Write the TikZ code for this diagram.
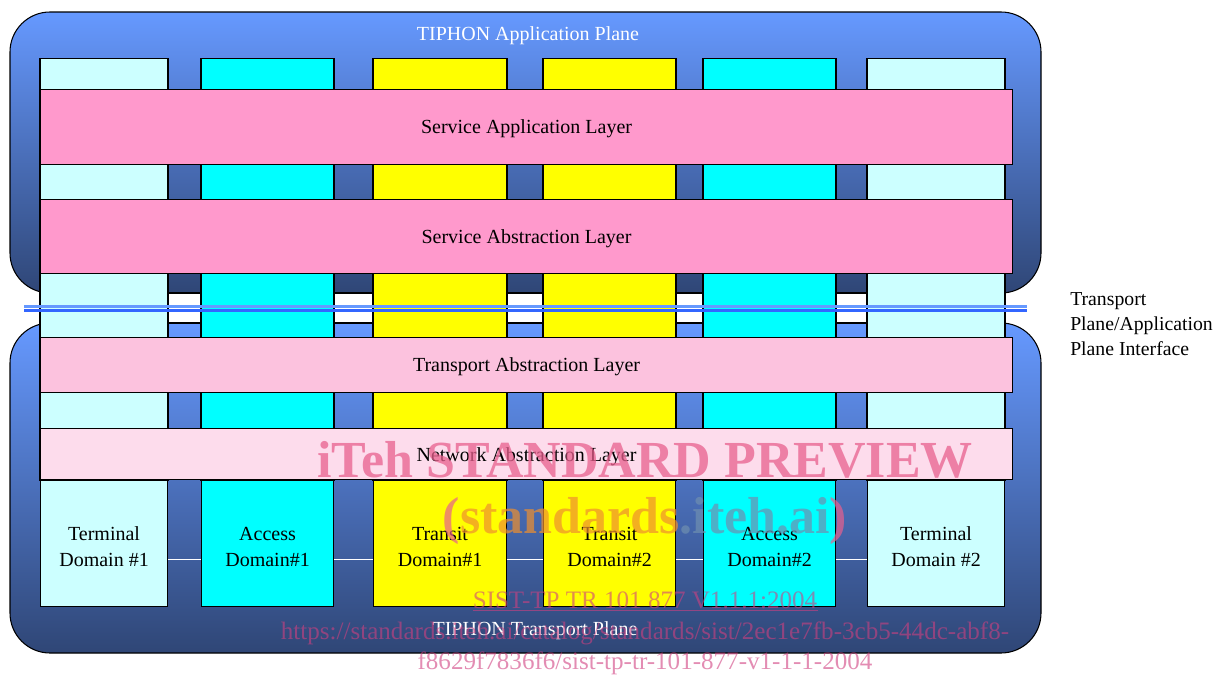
\documentclass[tikz,border=0pt]{standalone}
\usepackage{fontspec}
\setmainfont{Liberation Serif}
\usetikzlibrary{positioning}

\definecolor{planetop}{HTML}{6699FF}
\definecolor{planebot}{HTML}{2F4676}
\definecolor{termc}{HTML}{CCFFFF}
\definecolor{accc}{HTML}{00FFFF}
\definecolor{trc}{HTML}{FFFF00}
\definecolor{svcpink}{HTML}{FF99CC}
\definecolor{trpink}{HTML}{FCC2DE}
\definecolor{netpink}{HTML}{FDDCEC}
\definecolor{ifbluea}{HTML}{6699FF}
\definecolor{ifblueb}{HTML}{3366FF}
\definecolor{wmpink}{HTML}{E8608E}
\definecolor{wmmag}{HTML}{D04080}
\definecolor{wmorange}{HTML}{EE8F2E}
\definecolor{wmsteel}{HTML}{6F8FB0}

\tikzset{
  txt/.style={font=\fontsize{15}{19.5}\selectfont, align=center, inner sep=0pt},
  plane/.style={draw=black, line width=0.8pt, rounded corners=30pt,
    top color=planetop, bottom color=planebot},
  colbox/.style={draw=black, line width=0.8pt, minimum width=#1*0.75pt,
    inner sep=0pt, anchor=north west},
  dombox/.style={colbox=#1, minimum height=94.5pt},
  layer/.style={draw=black, line width=0.8pt, fill=svcpink, inner sep=0pt,
    minimum width=729pt, anchor=north west, txt, text depth=0pt},
  link/.style={draw=white, line width=0.9pt},
  wm/.style={inner sep=0pt, opacity=0.75, text opacity=0.75},
  wmsmall/.style={inner sep=0pt, text=wmmag, opacity=0.6, text opacity=0.6,
    font=\fontsize{18.8}{18.8}\selectfont}
}

\begin{document}
\begin{tikzpicture}[x=0.75pt,y=-0.75pt]
\useasboundingbox (0,0) rectangle (1218,675);

% the two planes
\path[plane] (10,12) rectangle (1041,293);
\path[plane] (10,323) rectangle (1041,653);
\node[txt, text=white] (appplane) at (528,36) {TIPHON Application Plane};
\node[txt, text=white] (trplane) at (535,631) {TIPHON Transport Plane};

% vertical domain columns (upper part) and the domain boxes at the bottom
\foreach \x/\w/\c/\n in {40/127/termc/1, 201/132/accc/2, 373/133/trc/3,
                         543/132/trc/4, 703/132/accc/5, 867/137/termc/6} {
  \node[colbox=\w, fill=\c, minimum height=316.5pt] (c\n) at (\x,58) {};
}
\node[dombox=127, fill=termc] (d1) at (40,480) {};
\node[dombox=132, fill=accc]  (d2) at (201,480) {};
\node[dombox=133, fill=trc]   (d3) at (373,480) {};
\node[dombox=132, fill=trc]   (d4) at (543,480) {};
\node[dombox=132, fill=accc]  (d5) at (703,480) {};
\node[dombox=137, fill=termc] (d6) at (867,480) {};

% domain names
\foreach \n/\t in {1/{Terminal\\Domain \#1}, 2/{Access\\Domain\#1},
                   3/{Transit\\Domain\#1}, 4/{Transit\\Domain\#2},
                   5/{Access\\Domain\#2}, 6/{Terminal\\Domain \#2}} {
  \node[txt] (t\n) at ([yshift=-2.5pt]d\n.center) {\t};
}

% links between neighbouring domains
\foreach \a/\b in {d1/d2, d2/d3, d3/d4, d4/d5, d5/d6} {
  \draw[link] ([yshift=-12pt]\a.east) -- ([yshift=-12pt]\b.west);
}

% white gap between the planes behind the interface lines
\foreach \a/\b in {c1/c2, c2/c3, c3/c4, c4/c5, c5/c6} {
  \fill[white] (\a.east |- 0,293) rectangle (\b.west |- 0,323);
  \draw[black, line width=0.8pt] (\a.east |- 0,293) -- (\b.west |- 0,293)
        (\a.east |- 0,323) -- (\b.west |- 0,323);
}
\foreach \n in {1,...,6} {
  \draw[black, line width=0.8pt] (c\n.north west) -- (c\n.south west)
        (c\n.north east) -- (c\n.south east);
}

% plane interface (double line)
\coordinate (ifL) at (24,306.5);
\coordinate (ifR) at (1027,306.5);
\draw[draw=ifbluea, line width=1.6pt] (ifL) -- (ifR);
\draw[draw=ifblueb, line width=1.6pt] ([yshift=-3pt]ifL) -- ([yshift=-3pt]ifR);
\node[font=\fontsize{14.8}{18.75}\selectfont, align=left, inner sep=0pt, anchor=west]
  (iflabel) at (1070,324) {Transport\\Plane/Application\\Plane Interface};

% horizontal layers
\node[layer, minimum height=56pt] (sal) at (40,89) {Service Application Layer};
\node[layer, minimum height=56pt] (sabl) at (40,198.5) {Service Abstraction Layer};
\node[layer, fill=trpink, minimum height=41pt] (tal) at (40,337) {Transport Abstraction Layer};
\node[layer, fill=netpink, minimum height=38.5pt] (nal) at (40,428) {Network Abstraction Layer};

% overlay text
\node[wm, text=wmpink, font=\fontsize{39}{39}\selectfont\bfseries] (wm1) at (645,460)
  {iTeh STANDARD PREVIEW};
\node[wm, opacity=0.7, text opacity=0.7, font=\fontsize{39}{39}\selectfont\bfseries] (wm2) at (645,521)
  {\textcolor{wmpink}{(}\textcolor{wmorange}{standards}\textcolor{wmsteel}{.iteh.ai}\textcolor{wmpink}{)}};
\node[wmsmall] (wm3) at (645,600) {SIST-TP TR 101 877 V1.1.1:2004};
\draw[draw=wmmag, opacity=0.6, line width=0.8pt]
  ([yshift=-1.5pt]wm3.south west) -- ([yshift=-1.5pt]wm3.south east);
\node[wmsmall] (wm4) at (645,633)
  {https://standards.iteh.ai/catalog/standards/sist/2ec1e7fb-3cb5-44dc-abf8-};
\node[wmsmall] (wm5) at (645,663) {f8629f7836f6/sist-tp-tr-101-877-v1-1-1-2004};
\end{tikzpicture}
\end{document}
